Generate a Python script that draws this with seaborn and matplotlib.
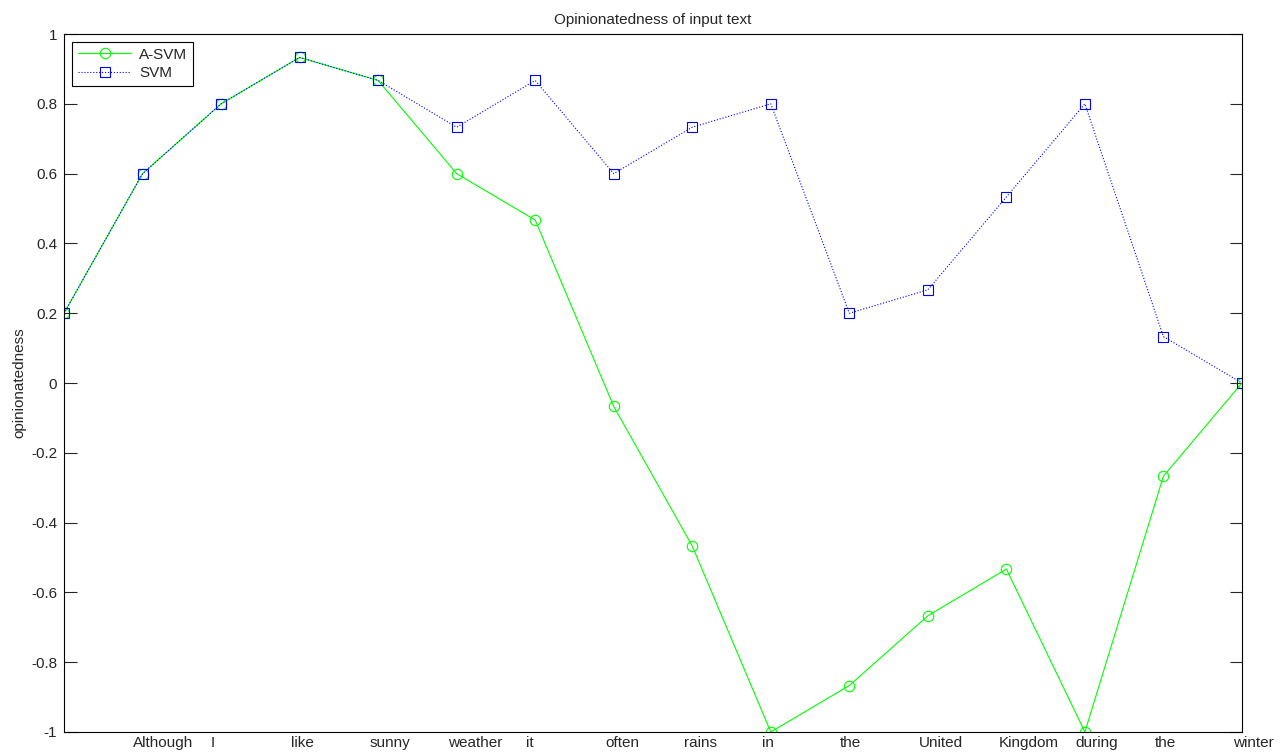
import matplotlib.pyplot as plt
import matplotlib.transforms as mtransforms
import numpy as np
import pandas as pd
import seaborn as sns

# words of the input sentence, shown under the axis
words = ["Although", "I", "like", "sunny", "weather", "it", "often", "rains",
         "in", "the", "United", "Kingdom", "during", "the", "winter"]
# where the word labels sit along the x axis
word_pos = [1.26, 1.90, 3.03, 4.15, 5.23, 5.93, 7.11, 8.10,
            8.96, 10.02, 11.17, 12.28, 13.15, 14.03, 15.14]

step = np.arange(16)
asvm = [0.2, 0.6, 0.8, 0.933, 0.867, 0.6, 0.467, -0.067,
        -0.467, -1.0, -0.867, -0.667, -0.533, -1.0, -0.267, 0.0]
svm = [0.2, 0.6, 0.8, 0.933, 0.867, 0.733, 0.867, 0.6,
       0.733, 0.8, 0.2, 0.267, 0.533, 0.8, 0.133, 0.0]

df = pd.DataFrame({"step": step, "A-SVM": asvm, "SVM": svm})

sns.set_style("ticks")
plt.rcParams["font.family"] = ["Liberation Sans", "DejaVu Sans"]
fs = 11

fig = plt.figure(figsize=(12.83, 7.53), dpi=100)
ax = fig.add_axes([0.0499, 0.0279, 0.9181, 0.9269])

sns.lineplot(data=df, x="step", y="A-SVM", ax=ax, color=(0, 1, 0), linewidth=0.8,
             marker="o", markersize=7.5, markerfacecolor="none",
             markeredgecolor=(0, 1, 0), markeredgewidth=0.8, label="A-SVM")
sns.lineplot(data=df, x="step", y="SVM", ax=ax, color=(0, 0, 1), linewidth=0.8,
             linestyle=":", marker="s", markersize=7.5, markerfacecolor="none",
             markeredgecolor=(0, 0, 1), markeredgewidth=0.8, label="SVM")

ax.set_yticks(np.round(np.arange(-1, 1.01, 0.2), 1))
ax.set_yticklabels(["-1", "-0.8", "-0.6", "-0.4", "-0.2", "0",
                    "0.2", "0.4", "0.6", "0.8", "1"])
ax.set_xticks([])
ax.set_xlim(0, 15)
ax.set_ylim(-1, 1)
ax.tick_params(axis="y", direction="in", length=9, width=0.8, right=True,
               labelsize=fs, pad=5)
for s in ax.spines.values():
    s.set_visible(True)
    s.set_linewidth(0.8)
    s.set_color("black")

# word labels: x in data units, y just below the axes
trans = mtransforms.blended_transform_factory(ax.transData, ax.transAxes)
for w, p in zip(words, word_pos):
    ax.text(p, -0.006, w, transform=trans, ha="center", va="top",
            fontsize=fs, clip_on=False)

ax.set_xlabel("")
ax.set_ylabel("opinionatedness", fontsize=fs, labelpad=3)
ax.set_title("Opinionatedness of input text", fontsize=fs, pad=7)

leg = ax.legend(loc="upper left", fontsize=fs, fancybox=False, framealpha=1,
                edgecolor="black", borderaxespad=0.5, handlelength=3.5,
                handletextpad=0.5, borderpad=0.4, labelspacing=0.3)
leg.get_frame().set_linewidth(0.8)

fig.savefig("out.png", dpi=100)
